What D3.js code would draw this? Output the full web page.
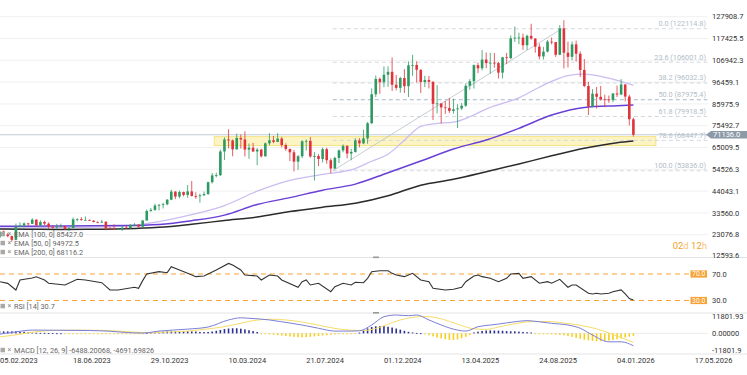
<!DOCTYPE html>
<html>
<head>
<meta charset="utf-8">
<script src="https://cdn.jsdelivr.net/npm/d3@7"></script>
<style>
body { margin: 0; background: #fff; }
svg { display: block; font-family: Roboto, "Liberation Sans", sans-serif; }
</style>
</head>
<body>
<div id="chart-area"></div>
<script>
// weekly candles, week starts on Sunday, prices in thousands
var firstWeek = "2023-02-05";

var opens = [23.4,21.8,24.6,23.1,22.4,20.6,26.9,27.5,28.5,28.3,
    30.3,27.6,29.2,28.4,26.8,26.7,26.9,27.2,25.8,26.3,
    30.5,30.6,30.2,30.2,29.8,29.2,29.0,29.3,26.1,26.0,
    25.8,25.8,26.5,26.2,27.9,27.9,26.9,29.9,34.5,35.0,
    37.1,37.4,37.7,39.9,43.8,41.4,43.6,42.2,43.9,41.7,
    41.6,42.0,42.6,48.3,51.6,51.7,63.1,68.9,68.4,64.1,
    69.6,68.9,64.0,64.9,63.1,64.0,60.8,67.0,68.5,67.7,
    69.3,66.2,64.3,62.7,58.2,60.8,68.0,68.2,60.7,60.9,
    59.5,64.2,58.9,54.9,60.0,63.6,65.8,62.1,62.9,68.4,
    67.0,69.4,76.7,90.6,98.0,96.4,100.0,101.4,95.2,93.7,
    98.4,94.5,104.5,104.7,102.4,96.5,97.5,96.6,86.0,86.2,
    84.3,84.0,82.6,83.4,83.8,85.1,94.7,96.9,104.6,103.1,
    107.3,105.6,105.8,105.6,101.0,108.4,108.0,117.5,117.8,117.9,
    114.2,118.7,117.4,113.5,108.8,111.1,115.9,115.7,109.6,122.3,
    110.6,108.6,114.6,110.1,102.3,94.6,84.7,90.9,89.4,88.2,
    88.1,87.8,91.0,90.5,95.3,89.5,78.6];

var highs = [23.6,25.2,25.1,23.9,22.6,28.4,29.0,29.0,28.8,31.0,
    30.5,30.0,29.8,29.0,27.6,28.3,28.4,27.3,26.8,31.4,
    31.0,31.5,31.8,30.4,30.1,29.5,30.2,29.5,26.8,28.1,
    26.1,27.5,27.4,28.0,28.6,28.0,30.2,35.2,35.9,38.0,
    37.9,38.4,40.2,44.7,44.0,44.3,43.8,47.0,48.9,43.5,
    42.8,43.8,48.6,52.8,52.9,64.0,69.9,73.8,68.9,71.7,
    71.3,72.8,66.9,67.2,64.7,64.4,67.4,71.9,70.6,71.9,
    70.1,67.0,64.5,63.8,61.4,68.5,68.9,70.0,62.8,61.8,
    65.0,64.9,59.8,60.6,64.1,66.5,66.0,64.4,69.5,69.5,
    73.6,77.3,93.4,99.6,98.7,104.0,104.0,108.3,99.9,99.0,
    102.7,106.4,109.6,106.5,102.5,99.5,99.4,96.8,95.0,86.2,
    87.4,88.8,88.5,85.8,86.4,95.8,97.9,104.9,105.8,111.9,
    110.7,110.5,110.4,106.2,108.6,110.5,118.9,123.2,120.2,119.8,
    119.3,124.5,117.6,115.0,113.4,116.7,117.9,115.7,123.9,126.2,
    115.9,116.0,116.4,111.2,107.5,96.6,93.1,94.1,94.6,90.4,
    90.0,91.0,94.8,97.9,95.5,90.4,79.4];

var lows = [21.5,21.4,22.8,21.9,19.6,20.4,26.6,26.6,27.2,28.2,
    27.1,26.9,27.7,25.9,26.0,25.9,26.5,25.4,24.8,26.2,
    29.5,29.7,29.9,29.6,29.0,28.6,28.7,25.2,25.8,25.4,
    25.4,24.9,26.0,26.0,27.2,26.6,26.9,29.9,34.1,34.5,
    34.8,35.7,37.2,39.7,40.2,40.6,41.5,40.8,41.5,40.3,
    38.5,41.8,42.3,47.7,50.6,51.3,59.0,64.6,60.8,64.0,
    64.5,60.7,59.6,62.8,56.5,60.2,60.6,66.0,67.1,67.6,
    65.1,63.4,58.5,53.5,54.3,59.9,63.5,60.1,49.1,56.1,
    57.8,57.2,52.6,54.6,57.5,62.7,59.8,58.9,62.5,65.1,
    66.6,66.8,76.3,89.3,90.8,94.0,94.2,92.2,92.5,91.4,
    91.2,89.3,99.5,96.2,91.2,94.1,93.4,78.2,81.4,76.6,
    81.2,81.6,81.3,74.4,83.0,84.6,92.8,93.4,100.8,102.1,
    103.1,100.4,103.4,98.2,98.2,105.1,107.5,115.7,114.7,112.0,
    111.9,116.8,110.6,107.4,107.3,110.7,114.6,108.6,109.4,103.0,
    103.5,106.9,106.3,98.9,94.0,80.6,84.4,83.8,87.6,84.4,
    86.5,86.8,89.3,90.2,87.2,75.6,70.3];

var closes = [21.8,24.6,23.1,22.4,20.6,26.9,27.5,28.5,28.3,30.3,
    27.6,29.2,28.4,26.8,26.7,26.9,27.2,25.8,26.3,30.5,
    30.6,30.2,30.2,29.8,29.2,29.0,29.3,26.1,26.0,25.8,
    25.8,26.5,26.2,27.9,27.9,26.9,29.9,34.5,35.0,37.1,
    37.4,37.7,39.9,43.8,41.4,43.6,42.2,43.9,41.7,41.6,
    42.0,42.6,48.3,51.6,51.7,63.1,68.9,68.4,64.1,69.6,
    68.9,64.0,64.9,63.1,64.0,60.8,67.0,68.5,67.7,69.3,
    66.2,64.3,62.7,58.2,60.8,68.0,68.2,60.7,60.9,59.5,
    64.2,58.9,54.9,60.0,63.6,65.8,62.1,62.9,68.4,67.0,
    69.4,76.7,90.6,98.0,96.4,100.0,101.4,95.2,93.7,98.4,
    94.5,104.5,104.7,102.4,96.5,97.5,96.6,86.0,86.2,84.3,
    84.0,82.6,83.4,83.8,85.1,94.7,96.9,104.6,103.1,107.3,
    105.6,105.8,105.6,101.0,108.4,108.0,117.5,117.8,117.9,114.2,
    118.7,117.4,113.5,108.8,111.1,115.9,115.7,109.6,122.3,110.6,
    108.6,114.6,110.1,102.3,94.6,84.7,90.9,89.4,88.2,88.1,
    87.8,91.0,90.5,95.3,89.5,78.6,71.1];

// moving averages [week, value in thousands]
var ema50 = [[0,26.2],[8,26.4],[16,26.5],[24,26.7],[32,27.2],[40,29.4],[48,32.7],[56,37.1],
    [64,44.0],[72,49.2],[80,52.1],[88,54.9],[92,58.4],[96,61.8],[100,68.5],[104,75.2],
    [108,76.6],[112,77.2],[116,79.8],[120,83.5],[124,86.2],[128,88.9],[132,93.0],[136,96.8],
    [140,99.6],[144,100.3],[148,99.2],[152,97.3],[156,95.0]];
var ema100 = [[0,27.2],[8,27.2],[16,27.3],[24,27.4],[32,27.5],[40,28.0],[48,29.8],[56,32.5],
    [64,37.6],[72,40.9],[80,44.5],[88,47.4],[96,52.9],[104,58.5],[112,64.3],[120,68.6],
    [128,74.2],[136,80.6],[144,84.3],[152,85.1],[156,85.4]];
var ema200 = [[0,25.8],[8,25.7],[16,25.6],[24,25.7],[32,25.9],[40,26.6],[48,28.1],[56,29.9],
    [64,31.6],[72,34.2],[80,36.3],[88,38.2],[96,41.8],[104,46.9],[112,49.7],[120,53.3],
    [128,57.1],[136,61.0],[144,64.6],[152,67.3],[156,68.1]];

var rsi = [[0,57],[1,58.4],[3,55.9],[5,45.8],[6,60.9],[9,64],[10,65.9],[12,60.9],[13,56],[17,53.4],
    [20,62],[22,60.9],[26,56.9],[28,45.8],[30,45.8],[34,49.9],[35,48.4],[36,60],[37,70],[40,73.5],
    [42,72],[43,81],[45,76],[47,71],[49,66],[51,67],[52,70],[54,76],[57,86],[58,83.6],
    [60,76],[61,68.5],[64,67],[65,61],[67,68.5],[69,67],[70,61],[74,50],[75,58.4],[76,61],
    [77,53.4],[79,56],[82,43.3],[83,50.8],[85,56],[87,53.4],[88,57.5],[90,56.9],[91,63.5],[92,73.5],
    [94,75],[96,75],[97,71],[98,68.5],[100,66],[101,68.5],[102,71],[104,61],[106,58.4],[107,48.4],
    [110,45.8],[112,46.9],[114,50],[115,58.4],[117,67],[118,68.5],[119,66],[121,63.5],[123,58.4],[124,61],
    [125,63.5],[126,70],[128,71],[129,63.5],[131,66],[133,56],[135,58.4],[136,56],[138,62],[139,56],
    [140,50],[141,53.4],[142,53.4],[145,40.9],[146,39.8],[147,40.9],[148,39.8],[150,40.9],[151,43.3],
    [153,46],[154,40],[155,33],[156,30.7]];

var macdLine = [[0,-1.2],[1,-0.6],[4,0.6],[9,2.3],[15,2.2],[23,2.0],[28,1.5],[32,0.6],[36,0.2],[40,1.6],
    [47,3.0],[52,4.5],[57,9.5],[60,11.0],[62,10.7],[67,9.5],[70,8.2],[75,5.9],[79,3.6],[83,1.6],
    [87,1.6],[89,1.8],[92,5.9],[95,11.8],[98,13.0],[101,12.5],[103,13.0],[106,9.5],[109,5.9],[113,2.3],
    [115,1.6],[118,4.7],[121,5.9],[123,6.6],[127,8.2],[130,9.0],[133,8.2],[136,7.1],[140,5.9],[143,3.6],
    [146,-1.2],[150,-6.0],[153,-6.0],[156,-8.8]];
var signalLine = [[0,-2.8],[2,-2.2],[6,-0.6],[10,1.2],[15,2.1],[21,2.3],[26,2.1],[30,1.6],[34,0.9],[38,0.4],
    [42,0.9],[47,1.6],[51,2.8],[55,4.3],[59,6.5],[63,9.0],[67,10.0],[71,9.5],[75,8.0],[79,5.8],
    [83,3.5],[87,2.2],[90,2.0],[93,3.4],[96,6.5],[99,9.5],[102,11.3],[105,12.0],[108,11.0],[111,8.5],
    [114,5.5],[117,3.2],[120,2.8],[123,4.5],[127,6.8],[131,8.3],[135,8.4],[139,7.3],[143,5.7],[147,3.2],
    [150,0.3],[153,-3.0],[156,-6.4]];
var macdHist = [1.1,1.4,1.4,1.4,1.4,1.4,1.1,1.1,0.7,
    0.6,0.4,0.35,0.3,0.2,0.15,0.1,0.05,
    -0.3,-0.4,-0.4,-0.4,-0.3,-0.3,-0.2,
    -0.1,-0.1,-0.2,-0.3,-0.4,
    -0.5,-0.6,-0.6,-0.5,-0.4,-0.4,-0.3,-0.2,
    0.3,0.6,0.9,1.1,1.2,1.3,1.4,1.4,1.5,1.5,1.5,1.4,1.3,
    1.0,0.9,1.0,1.3,1.8,2.4,
    3.0,3.4,3.6,3.6,3.3,2.8,2.2,1.6,1.0,
    -0.2,-0.5,-0.8,-1.0,-1.3,-1.6,-1.9,
    -2.2,-2.5,-2.7,-2.8,-2.7,-2.5,-2.2,-1.9,-1.6,
    -1.3,-1.0,-0.8,-0.6,-0.5,-0.4,-0.3,-0.1,
    0.5,2.0,3.5,4.5,5.0,5.2,5.1,4.7,4.1,3.4,2.6,1.8,1.1,
    0.6,0.3,0.1,
    -0.6,-1.4,-2.2,-3.0,-3.6,-4.2,-4.6,-4.7,-4.3,-3.5,-2.5,-1.3,
    0.6,1.2,1.7,2.0,2.1,2.0,1.9,
    1.8,1.6,1.5,1.4,1.2,1.0,0.8,0.6,
    -0.2,-0.4,-0.6,-0.7,-0.8,-0.9,-1.1,-1.4,
    -1.9,-2.5,-3.2,-3.9,-4.5,-5.0,-5.4,-5.6,-5.6,-5.4,-5.1,-4.7,-4.2,-3.6,-3.0,-2.4,-1.8];

// fibonacci levels [ratio, price]
var fibLevels = [[0.0,122114.8],[23.6,106001.0],[38.2,96032.3],[50.0,87975.4],
    [61.8,79918.5],[78.6,68447.7],[100.0,53836.0]];
var fibStart = "2024-09-08", fibPeak = "2025-10-05", fibEnd = "2026-06-11";
var zone = { from: "2024-02-18", to: "2026-03-15", low: 65900, high: 70200 };
var lastPrice = 71136.0;

var priceTicks = [127908.7,117425.5,106942.3,96459.1,85975.9,75492.7,65009.5,54526.3,44043.1,33560.0,23076.8,12593.6];
var macdTicks = ["11801.93","0.00000","-11801.9"];
var dateTicks = ["05.02.2023","18.06.2023","29.10.2023","10.03.2024","21.07.2024","01.12.2024",
    "13.04.2025","24.08.2025","04.01.2026","17.05.2026"];
var legendPrice = ["EMA [100, 0] 85427.0","EMA [50, 0] 94972.5","EMA [200, 0] 68116.2"];

var width = 747, height = 375, plotRight = 708;
var k = 1000;

var svg = d3.select("#chart-area")
    .append("svg")
        .attr("width", width)
        .attr("height", height);

var parseDate = d3.utcParse("%Y-%m-%d");
var parseLabel = d3.utcParse("%d.%m.%Y");
var start = parseDate(firstWeek);

// X scale (time)
var x = d3.scaleUtc()
    .domain([parseLabel("05.02.2023"), parseLabel("04.01.2026")])
    .range([-6.6, 615]);

function weekX(j) {
    return x(d3.utcHour.offset(start, j * 168 + 84));
}

// Y scales
var y = d3.scaleLinear().domain([12593.6, 127908.7]).range([256.5, 16.7]);
var yRsi = d3.scaleLinear().domain([30, 70]).range([300.5, 274]);
var yMacd = d3.scaleLinear().domain([-11801.9, 11801.93]).range([350, 316.7]);

var defs = svg.append("defs");
defs.append("clipPath").attr("id", "clipPrice")
    .append("rect").attr("x", 0).attr("y", 0).attr("width", plotRight).attr("height", 257);
defs.append("clipPath").attr("id", "clipLow")
    .append("rect").attr("x", 0).attr("y", 257).attr("width", plotRight).attr("height", 100);

// grid
svg.append("g").selectAll("line")
    .data(priceTicks.slice(0, 11))
    .enter().append("line")
        .attr("x1", 0).attr("x2", plotRight)
        .attr("y1", function(d){ return y(d); })
        .attr("y2", function(d){ return y(d); })
        .attr("stroke", "#f0f0f0");

// panel separators
[257.5, 313, 354].forEach(function(py){
    svg.append("line")
        .attr("x1", 0).attr("x2", width)
        .attr("y1", py).attr("y2", py)
        .attr("stroke", "#e4e4e4");
});
[257.5, 313].forEach(function(py){
    svg.append("rect")
        .attr("x", 373).attr("y", py - 1).attr("width", 6).attr("height", 1.6)
        .attr("fill", "#9a9a9a");
});

var price = svg.append("g").attr("clip-path", "url(#clipPrice)");

// support zone
price.append("rect")
    .attr("x", x(parseDate(zone.from)))
    .attr("y", y(zone.high))
    .attr("width", x(parseDate(zone.to)) - x(parseDate(zone.from)))
    .attr("height", y(zone.low) - y(zone.high))
    .attr("fill", "#fcec9c")
    .attr("fill-opacity", 0.6)
    .attr("stroke", "#f3dc6a")
    .attr("stroke-width", 0.8);

// current price line
price.append("line")
    .attr("x1", 0).attr("x2", plotRight)
    .attr("y1", y(lastPrice)).attr("y2", y(lastPrice))
    .attr("stroke", "#b9c6d2").attr("stroke-width", 0.9);

// fibonacci
var fx0 = x(parseDate(fibStart)), fx1 = x(parseDate(fibEnd));
fibLevels.forEach(function(f){
    price.append("line")
        .attr("x1", fx0).attr("x2", fx1)
        .attr("y1", y(f[1])).attr("y2", y(f[1]))
        .attr("stroke", f[0] == 50 ? "#9db0c2" : "#cfd5db")
        .attr("stroke-width", 0.9)
        .attr("stroke-dasharray", "4,3");
});
price.append("line")
    .attr("x1", fx0).attr("y1", y(fibLevels[6][1]))
    .attr("x2", x(parseDate(fibPeak))).attr("y2", y(fibLevels[0][1]))
    .attr("stroke", "#b8c0c8").attr("stroke-width", 0.8);

// EMA lines
var emaLine = d3.line()
    .x(function(d){ return weekX(d[0]); })
    .y(function(d){ return y(d[1] * k); })
    .curve(d3.curveMonotoneX);

price.append("path").datum(ema50).attr("d", emaLine)
    .attr("fill", "none").attr("stroke", "#cbbdf0").attr("stroke-width", 1.3);
price.append("path").datum(ema100).attr("d", emaLine)
    .attr("fill", "none").attr("stroke", "#6a3fd6").attr("stroke-width", 1.5);
price.append("path").datum(ema200).attr("d", emaLine)
    .attr("fill", "none").attr("stroke", "#2b2b2b").attr("stroke-width", 1.5);

// candles
var candles = opens.map(function(o, j){
    return { j: j, o: o * k, h: highs[j] * k, l: lows[j] * k, c: closes[j] * k };
});
var up = "#2e9a63", down = "#e0343d";

var cg = price.append("g").selectAll("g")
    .data(candles)
    .enter().append("g");

cg.append("line")
    .attr("x1", function(d){ return weekX(d.j); })
    .attr("x2", function(d){ return weekX(d.j); })
    .attr("y1", function(d){ return y(d.h); })
    .attr("y2", function(d){ return y(d.l); })
    .attr("stroke", function(d){ return d.c >= d.o ? up : down; })
    .attr("stroke-width", 0.8);

cg.append("rect")
    .attr("x", function(d){ return weekX(d.j) - 1.3; })
    .attr("width", 2.6)
    .attr("y", function(d){ return y(Math.max(d.o, d.c)); })
    .attr("height", function(d){ return Math.max(0.8, Math.abs(y(d.o) - y(d.c))); })
    .attr("fill", function(d){ return d.c >= d.o ? up : down; });

// fib labels
fibLevels.forEach(function(f){
    svg.append("text")
        .attr("x", 706).attr("y", y(f[1]) - 2.5)
        .attr("text-anchor", "end")
        .attr("font-size", "7.3px")
        .attr("fill", "#b3bdc7")
        .text(f[0].toFixed(1) + " (" + f[1].toFixed(1) + ")");
});

// price axis
svg.append("g").selectAll("text")
    .data(priceTicks)
    .enter().append("text")
        .attr("x", 712)
        .attr("y", function(d, i){ return i == 11 ? 255 : y(d); })
        .attr("dy", "0.35em")
        .attr("font-size", "7.5px")
        .attr("fill", "#333")
        .text(function(d){ return d.toFixed(1); });

// last price tag
var ty = y(lastPrice);
svg.append("path")
    .attr("d", "M706," + ty + "L711," + (ty - 3.8) + "L747," + (ty - 3.8) + "L747," + (ty + 3.8) + "L711," + (ty + 3.8) + "Z")
    .attr("fill", "#8c99a6");
svg.append("text")
    .attr("x", 713).attr("y", ty).attr("dy", "0.35em")
    .attr("font-size", "7.5px").attr("fill", "#fff")
    .text(lastPrice.toFixed(1));

// countdown
var cd = svg.append("text")
    .attr("x", 707).attr("y", 249)
    .attr("text-anchor", "end")
    .attr("font-size", "9.5px");
cd.append("tspan").attr("fill", "#f5a01f").text("02");
cd.append("tspan").attr("fill", "#f7c27a").text("d ");
cd.append("tspan").attr("fill", "#f5a01f").text("12");
cd.append("tspan").attr("fill", "#f7c27a").text("h");

// legend helper
function legendRow(ly, label) {
    svg.append("rect").attr("x", 0.5).attr("y", ly - 2.2).attr("width", 4.5).attr("height", 4.5)
        .attr("fill", "#a8a8a8");
    svg.append("text").attr("x", 7.5).attr("y", ly).attr("dy", "0.35em")
        .attr("font-size", "7px").attr("fill", "#888").text("\u00d7");
    svg.append("text").attr("x", 14).attr("y", ly).attr("dy", "0.35em")
        .attr("font-size", "7.3px").attr("fill", "#666").text(label);
}
legendPrice.forEach(function(t, i){ legendRow(234 + i * 9, t); });

// RSI panel
var low = svg.append("g").attr("clip-path", "url(#clipLow)");

[70, 30].forEach(function(v){
    low.append("line")
        .attr("x1", 0).attr("x2", 690)
        .attr("y1", yRsi(v)).attr("y2", yRsi(v))
        .attr("stroke", "#f7a234").attr("stroke-width", 1.2)
        .attr("stroke-dasharray", "5,4");
    svg.append("rect")
        .attr("x", 690.5).attr("y", yRsi(v) - 3.6).attr("width", 16.5).attr("height", 7.2)
        .attr("fill", "#f7a234");
    svg.append("text")
        .attr("x", 698.7).attr("y", yRsi(v)).attr("dy", "0.35em")
        .attr("text-anchor", "middle")
        .attr("font-size", "6.8px").attr("fill", "#fff")
        .text(v.toFixed(1));
    svg.append("text")
        .attr("x", 712).attr("y", yRsi(v)).attr("dy", "0.35em")
        .attr("font-size", "7.5px").attr("fill", "#333")
        .text(v.toFixed(1));
});

var rsiLine = d3.line()
    .x(function(d){ return weekX(d[0]); })
    .y(function(d){ return yRsi(d[1]); });
low.append("path").datum(rsi).attr("d", rsiLine)
    .attr("fill", "none").attr("stroke", "#333").attr("stroke-width", 1.1);

legendRow(306, "RSI [14] 30.7");

// MACD panel
low.append("line")
    .attr("x1", 0).attr("x2", plotRight)
    .attr("y1", yMacd(0)).attr("y2", yMacd(0))
    .attr("stroke", "#ececec");

low.append("g").selectAll("rect")
    .data(macdHist)
    .enter().append("rect")
        .attr("x", function(d, j){ return weekX(j) - 0.8; })
        .attr("width", 1.6)
        .attr("y", function(d){ return d >= 0 ? yMacd(d * k) : yMacd(0); })
        .attr("height", function(d){ return Math.max(0.9, Math.abs(yMacd(d * k) - yMacd(0))); })
        .attr("fill", function(d){ return d >= 0 ? "#2b2f93" : "#f6cf1e"; });

var macdPath = d3.line()
    .x(function(d){ return weekX(d[0]); })
    .y(function(d){ return yMacd(d[1] * k); })
    .curve(d3.curveMonotoneX);
low.append("path").datum(signalLine).attr("d", macdPath)
    .attr("fill", "none").attr("stroke", "#f7dd68").attr("stroke-width", 1);
low.append("path").datum(macdLine).attr("d", macdPath)
    .attr("fill", "none").attr("stroke", "#7b7fd6").attr("stroke-width", 1);

svg.append("g").selectAll("text")
    .data(macdTicks)
    .enter().append("text")
        .attr("x", 712)
        .attr("y", function(d){ return yMacd(+d); })
        .attr("dy", "0.35em")
        .attr("font-size", "7.5px")
        .attr("fill", "#333")
        .text(function(d){ return d; });

legendRow(350, "MACD [12, 26, 9] -6488.20068, -4691.69826");

// X axis labels (left-aligned at the tick, first one kept inside)
svg.append("g").selectAll("text")
    .data(dateTicks)
    .enter().append("text")
        .attr("x", function(d){ return Math.max(0, x(parseLabel(d)) + 2); })
        .attr("y", 363)
        .attr("font-size", "7.5px")
        .attr("fill", "#333")
        .text(function(d){ return d; });
</script>
</body>
</html>
